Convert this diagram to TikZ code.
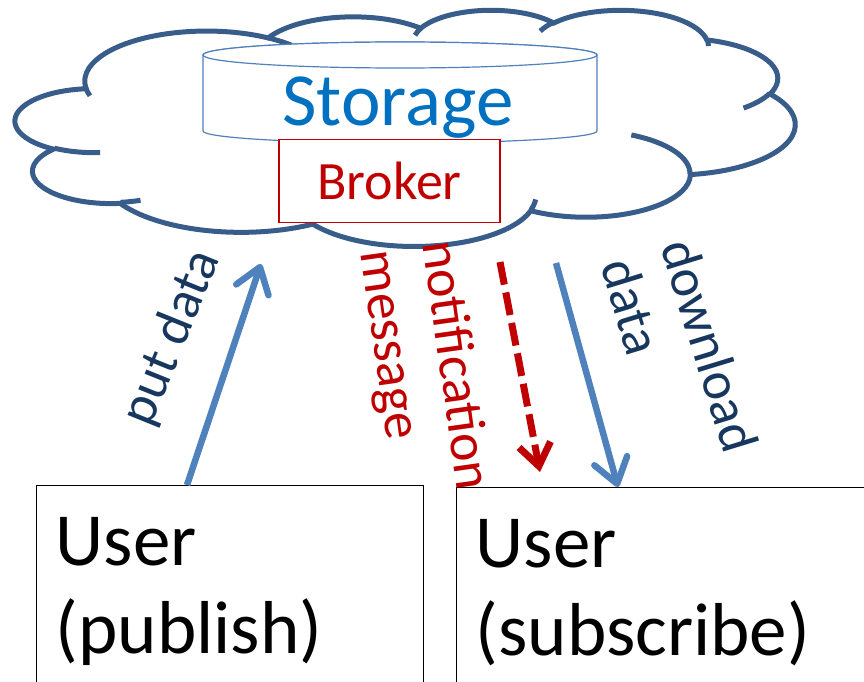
\documentclass[tikz,border=0pt]{standalone}
\usepackage{fontspec}
\setmainfont{Carlito}
\usetikzlibrary{arrows.meta, positioning}
\definecolor{cloudblue}{HTML}{385D8A}
\definecolor{accblue}{HTML}{4F81BD}
\definecolor{storeblue}{HTML}{0070C0}
\definecolor{brokerred}{HTML}{C00000}
\definecolor{labelnavy}{HTML}{17375E}

\begin{document}
\begin{tikzpicture}[x=1pt, y=-1pt,
    cloudline/.style={draw=cloudblue, line width=5pt},
    drum/.style={draw=accblue, line width=1.2pt, fill=white},
    brokerbox/.style={draw=brokerred, line width=1.2pt, fill=white, text=brokerred,
        minimum width=221pt, minimum height=83pt, inner sep=0pt,
        font=\fontsize{54}{64}\selectfont},
    userbox/.style={draw=black, line width=1.2pt, anchor=north west, align=left,
        inner xsep=19pt, inner ysep=32pt, font=\fontsize{75}{88}\selectfont},
    flow/.style={accblue, line width=6.5pt, -{Straight Barb[length=24pt, width=34pt, round]}},
    notify/.style={brokerred, line width=7pt, dash pattern=on 23pt off 8pt,
        -{Straight Barb[length=22pt, width=32pt]}},
    lbl/.style={font=\fontsize{54}{63}\selectfont, align=left, inner sep=0pt}]
            \clip (0,0) rectangle (864,682);
            % cloud (outline + inner hooks)
            \begin{scope}[shift={(15.5,9.5)}, x=0.18044pt, y=-0.05466pt]
                \draw[cloudline] (390,1437)
                    \foreach \rx/\ry/\st/\sw [evaluate=\st as \ta using {atan2(\rx*sin(\st),\ry*cos(\st))},
                        evaluate=\sw as \dt using {mod(atan2(\rx*sin(\st+\sw),\ry*cos(\st+\sw))-atan2(\rx*sin(\st),\ry*cos(\st))+720,360)}]
                    in {675.3/919.0/-190.4875/123.7805, 533.3/726.7/-144.1024/89.9452,
                        436.5/594.5/-145.8079/99.7230, 485.7/659.5/-130.9861/117.2417,
                        533.3/727.3/-78.7089/109.0269, 677.5/922.0/-46.2673/130.2690,
                        578.5/786.7/0.6250/114.0333, 675.2/921.5/22.4516/115.1726,
                        772.0/1054.3/66.2426/75.7110, 436.0/591.8/-274.9421/146.7356,
                        434.5/594.5/-246.8285/152.5189}
                    { arc[start angle=\ta, delta angle=\dt, x radius=\rx, y radius=\ry] } -- cycle;
                \foreach \px/\py/\rx/\ry/\st/\sw [evaluate=\st as \ta using {atan2(\rx*sin(\st),\ry*cos(\st))},
                        evaluate=\sw as \dt using {mod(atan2(\rx*sin(\st+\sw),\ry*cos(\st+\sw))-atan2(\rx*sin(\st),\ry*cos(\st))+720,360)}]
                    in {469.3/2617.7/434.5/594.5/86.742/26.4295, 692.8/3489.9/436.0/591.8/73.6105/11.4475,
                        1647.8/3909.0/675.2/921.5/137.6242/14.0811, 2882.7/3475.1/675.2/921.5/6.4533/15.9984,
                        3412.9/2295.4/578.5/786.7/-70.2924/70.9174, 4179.8/1535.4/533.3/727.3/30.3180/27.7515,
                        3832.4/542.6/485.7/659.5/-13.7443/14.8589, 2907.8/395.2/485.7/659.5/-149.1815/18.1954,
                        2214.1/472.0/436.5/594.5/-163.4943/17.6864, 1400.0/519.2/675.3/919.0/-66.7070/12.3194,
                        412.7/1578.9/675.3/919.0/157.6544/11.8582}
                    \draw[cloudline] (\px,\py) arc[start angle=\ta, delta angle=\dt, x radius=\rx, y radius=\ry];
            \end{scope}
            % storage drum
            \draw[drum] (203,55) -- (203,131) arc[start angle=180, end angle=360, x radius=197pt, y radius=12pt]
                -- (597,55) arc[start angle=0, end angle=180, x radius=197pt, y radius=13pt] -- cycle;
            \draw[drum] (400,55) ellipse[x radius=197pt, y radius=13pt];
            \node[anchor=base, text=storeblue, font=\fontsize{75}{88}\selectfont] (store) at (398,125) {Storage};
            \node[brokerbox] (broker) at (389.5,181) {Broker};
            % users
            \node[userbox, text width=349pt] (pub) at (36,485) {User\\(publish)};
            \node[userbox, text width=380pt] (sub) at (456,487) {User\\(subscribe)};
            % connectors
            \coordinate (putend) at (261,264);
            \coordinate (notestart) at (500,262);
            \coordinate (noteend) at (540,472);
            \coordinate (getstart) at (556,263);
            \draw[flow] (187,0 |- pub.north) -- (putend);
            \draw[notify] (notestart) -- (noteend);
            \draw[flow] (getstart) -- (618,0 |- sub.north);
            % labels
            \node[lbl, text=labelnavy, rotate=68] (putlbl) at (172,338) {put data};
            \node[lbl, text=brokerred, rotate=-82] (notelbl) at (423,370) {notification\\message};
            \node[lbl, text=labelnavy, rotate=-73] (getlbl) at (680,355) {download\\data};
\end{tikzpicture}
\end{document}
